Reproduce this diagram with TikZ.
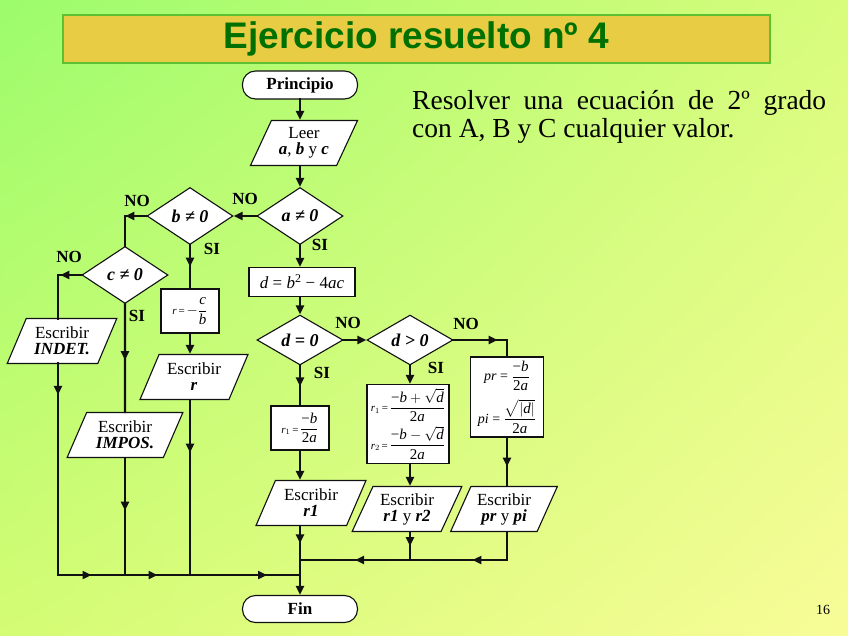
\documentclass[tikz,border=0pt]{standalone}
\usepackage{amsmath}
\usepackage{fontspec}
\setmainfont{Liberation Serif}
\newfontfamily\headfont{Liberation Sans}
\usetikzlibrary{arrows.meta,shapes.geometric,decorations.markings,calc,shadings}
\definecolor{bgTL}{HTML}{9CFC6C}
\definecolor{bgTR}{HTML}{D8FC7C}
\definecolor{bgBL}{HTML}{D4FC74}
\definecolor{bgBR}{HTML}{F8FC98}
\definecolor{gold}{HTML}{E8CC44}
\definecolor{leaf}{HTML}{5CC030}
\definecolor{forest}{HTML}{007000}
\definecolor{ink}{HTML}{111111}
\newcommand\bvar[1]{\textbf{\textit{#1}}}
\newcommand\fs[1]{\fontsize{#1}{#1}\selectfont}
% small left-hand side of a formula
\newcommand\lhs[1]{{\fs{11}#1\,=\,}}

\begin{document}
\begin{tikzpicture}[x=1pt,y=-1pt,
  font=\fs{17},
  term/.style={draw=ink,line width=1.1pt,fill=white,rounded corners=13pt,
               minimum width=115pt,minimum height=28pt,inner sep=0pt,
               font=\fs{17}\bfseries},
  io/.style={trapezium,trapezium left angle=63,trapezium right angle=117,
             trapezium stretches=true,draw=ink,line width=1.1pt,fill=white,
             align=center,inner sep=1pt,minimum height=45pt,
             font=\fontsize{17}{16}\selectfont},
  proc/.style={draw=ink,line width=1.1pt,fill=white,inner sep=1pt,
               align=center,font=\fs{15}},
  cond/.style={diamond,draw=ink,line width=1.1pt,fill=white,inner sep=0pt,
               minimum width=86pt,minimum height=57pt,
               font=\fs{18}\bfseries\itshape},
  lab/.style={font=\fs{17}\bfseries},
  >={Triangle[length=9pt,width=8pt]},
  wire/.style={line width=2.4pt,draw=ink,line cap=rect},
  arr/.style={wire,->},
  arrowat/.style={postaction={decorate},
                  decoration={markings,mark=at position #1 with {\arrow{>}}}},
]
\useasboundingbox (0,0) rectangle (848,636);
\shade[upper left=bgTL,upper right=bgTR,lower left=bgBL,lower right=bgBR]
  (0,0) rectangle (848,636);

% Heading and statement
\node[draw=leaf,line width=2pt,fill=gold,minimum width=707pt,
      minimum height=48pt,inner sep=0pt,
      font=\headfont\fs{37}\bfseries,text=forest] (head) at (416.5,39)
  {Ejercicio resuelto nº 4};
\node[anchor=north west,inner sep=0pt,align=left,
      font=\fontsize{27.5}{28}\selectfont] (task) at (412,90)
  {\makebox[414pt][s]{Resolver una ecuación de 2º grado}\\
   con A, B y C cualquier valor.};
\node[font=\fs{14}] (page) at (823,610) {16};

% Main column
\node[term] (pri) at (300,85) {Principio};
\node[io,minimum width=108pt] (leer) at (304,143)
  {Leer\\\bvar{a}, \bvar{b} y \bvar{c}};
\node[cond] (ane) at (300,216) {a ≠ 0};
\node[cond] (bne) at (190,216) {b ≠ 0};
\node[cond] (cne) at (125,275) {c ≠ 0};
\node[proc,minimum width=106pt,minimum height=29pt,font=\fs{17}]
  (dcalc) at (302,282) {\textit{d} = \textit{b}\textsuperscript{2} − 4\textit{ac}};
\node[proc,minimum width=58pt,minimum height=44pt] (rcb) at (190,311)
  {\lhs{\textit{r}}$-\dfrac{\text{\textit{c}}}{\text{\textit{b}}}$};
\node[io,minimum width=110pt] (indet) at (62,341) {Escribir\\\bvar{INDET.}};
\node[io,minimum width=108pt] (escr) at (194,377) {Escribir\\\bvar{r}};
\node[io,minimum width=116pt] (impos) at (125,435) {Escribir\\\bvar{IMPOS.}};

% Discriminant branch
\node[cond,minimum height=44pt] (deq) at (300,340) {d = 0};
\node[cond,minimum height=44pt] (dgt) at (410,340) {d > 0};
\node[proc,minimum width=58pt,minimum height=44pt] (r1) at (300,428)
  {\lhs{\textit{r}$_1$}$\dfrac{\text{−\textit{b}}}{\text{2\textit{a}}}$};
\node[proc,minimum width=82pt,minimum height=79pt] (r12) at (408,424)
  {\lhs{\textit{r}$_1$}$\dfrac{\text{−\textit{b}}+\sqrt{\text{\textit{d}}}}{\text{2\textit{a}}}$\\[3pt]
   \lhs{\textit{r}$_2$}$\dfrac{\text{−\textit{b}}-\sqrt{\text{\textit{d}}}}{\text{2\textit{a}}}$};
\node[proc,minimum width=73pt,minimum height=80pt] (prpi) at (507,397)
  {{\fs{14}\textit{pr} = }$\dfrac{\text{−\textit{b}}}{\text{2\textit{a}}}$\\[8pt]
   {\fs{14}\textit{pi} = }$\dfrac{\sqrt{|\text{\textit{d}}|}}{\text{2\textit{a}}}$};
\node[io,minimum width=110pt] (escr1) at (311,503) {Escribir\\\bvar{r1}};
\node[io,minimum width=110pt] (escr12) at (407,509)
  {Escribir\\\bvar{r1} y \bvar{r2}};
\node[io,minimum width=107pt] (escpp) at (504,509)
  {Escribir\\\bvar{pr} y \bvar{pi}};
\node[term,minimum height=27pt] (fin) at (300,609) {Fin};

\coordinate (jl) at (300,575);
\coordinate (jr) at (300,560);

% Connectors
\draw[arr] (pri.south) -- (pri.south |- leer.north);
\draw[arr] (ane.north |- leer.south) -- (ane.north);
\draw[arr] (ane.west) -- (bne.east);
\draw[wire,arrowat=21pt] (bne.west) -| (cne.north);
\draw[wire,arrowat=21pt] (cne.west) -| (58,319);
\draw[arr] (ane.south) -- (ane.south |- dcalc.north);
\draw[wire,arrowat=0.5] (bne.south) -- (rcb.north);
\draw[wire,arrowat=0.52] (cne.south) -- (impos.north);
\draw[arr] (rcb.south) -- (rcb.south |- escr.north);
\draw[arr] (ane.south |- dcalc.south) -- (deq.north);
\draw[arr] (deq.east) -- (dgt.west);
\draw[wire,arrowat=44pt] (dgt.east) -| (prpi.north);
\draw[wire,arrowat=0.52] (deq.south) -- (r1.north);
\draw[arr] (dgt.south) -- (dgt.south |- r12.north);
\draw[wire,arrowat=0.6] (prpi.south) -- (prpi.south |- escpp.north);
\draw[arr] (r1.south) -- (r1.south |- escr1.north);
\draw[arr] (dgt.south |- r12.south) -- (dgt.south |- escr12.north);

% Joining lines
\draw[wire,arrowat=0.15] (58,363) -- (58,575);
\draw[wire,arrowat=0.5] (58,575) -- (impos.south |- jl);
\draw[wire,arrowat=0.45] (impos.south) -- (impos.south |- jl);
\draw[wire,arrowat=0.5] (impos.south |- jl) -- (rcb.south |- jl);
\draw[wire,arrowat=0.3] (rcb.south |- escr.south) -- (rcb.south |- jl);
\draw[wire,arrowat=0.7] (rcb.south |- jl) -- (jl);
\draw[wire,arrowat=0.5] (dgt.south |- escr12.south) -- (dgt.south |- jr);
\draw[wire,arrowat=0.5] (prpi.south |- escpp.south) -- (prpi.south |- jr)
  -- (dgt.south |- jr);
\draw[wire,arrowat=0.5] (dgt.south |- jr) -- (jr);
\draw[wire,arrowat=0.25,->] (r1.south |- escr1.south) -- (fin.north);

% Branch labels
\node[lab] (no1) at (245,199) {NO};
\node[lab] (no2) at (137,201) {NO};
\node[lab] (no3) at (69,257) {NO};
\node[lab] (si1) at (212,249) {SI};
\node[lab] (si2) at (320,245) {SI};
\node[lab] (si3) at (137,316) {SI};
\node[lab] (no4) at (348,323) {NO};
\node[lab] (no5) at (466,324) {NO};
\node[lab] (si4) at (322,373) {SI};
\node[lab] (si5) at (436,368) {SI};
\end{tikzpicture}
\end{document}
